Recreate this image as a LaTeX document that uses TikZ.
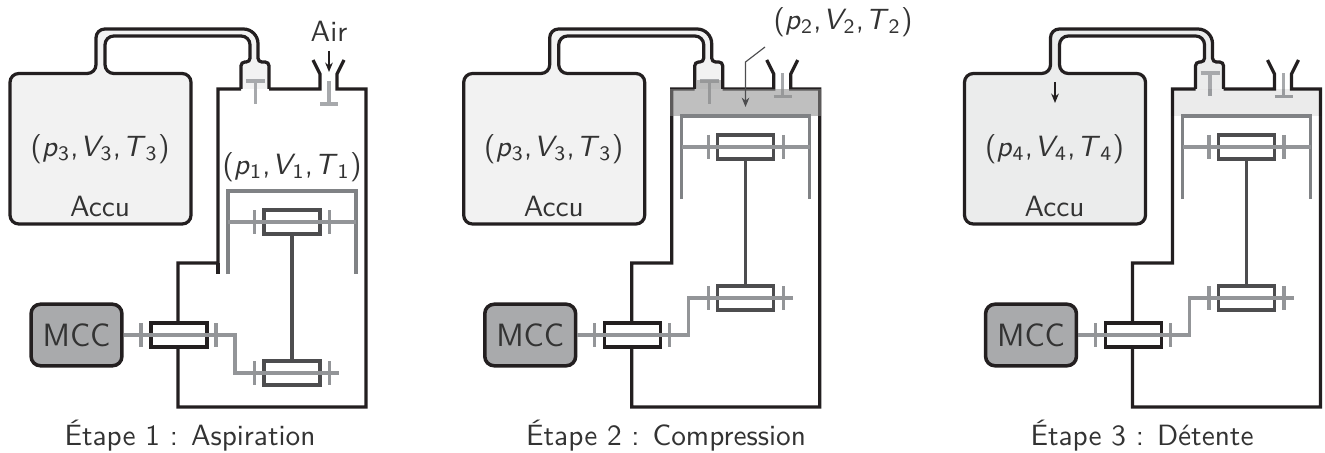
\documentclass[tikz,border=0pt]{standalone}
\usepackage{amsmath,amssymb}
\usetikzlibrary{arrows.meta}

\definecolor{inkblack}{HTML}{231F20}
\definecolor{inktext}{HTML}{333333}
\definecolor{pistongray}{HTML}{808285}
\definecolor{rodgray}{HTML}{4D4D4F}
\definecolor{shaftgray}{HTML}{939598}
\definecolor{valvegray}{HTML}{A7A9AC}
\definecolor{motorgray}{HTML}{A9AAAC}
\definecolor{accuA}{HTML}{F2F2F2}
\definecolor{accuB}{HTML}{EBECEC}

\tikzset{
  wall/.style={draw=inkblack, line width=1.1pt, line join=miter},
  piston/.style={draw=pistongray, line width=1.05pt},
  rod/.style={draw=rodgray, line width=1.05pt},
  shaft/.style={draw=shaftgray, line width=1.05pt},
  valve/.style={draw=valvegray, line width=1.05pt},
  bearing/.style={draw=rodgray, fill=white, line width=1.05pt, inner sep=0pt,
    minimum width=19.1pt, minimum height=8.2pt},
  mccbox/.style={draw=inkblack, fill=motorgray, line width=1.2pt, rounded corners=3.2pt,
    inner sep=0pt, minimum width=31pt, minimum height=21pt, text=inktext,
    font=\fontsize{11}{13}\selectfont\sffamily},
  txt/.style={text=inktext, font=\sffamily, inner sep=0pt},
  flow/.style={-{Stealth[length=3.2pt, width=2.6pt, inset=1pt]}},
}

% State of the gas, slanted letters with upright indices
\newcommand{\gasstate}[1]{(\textsl{p}$_{\mathsf{#1}}$,\kern0.5pt\textsl{V}\kern-1pt$_{\mathsf{#1}}$,\kern0.5pt\textsl{T}$_{\mathsf{#1}}$)}

% Outline of the tank and its pipe, ends open at the valve
\newcommand{\accupath}{(241,89) [rounded corners=1.3pt] -- (241,62) -- (250,62)
  [rounded corners=3pt] -- (250,36) -- (105,36) -- (105,73.5)
  -- (191,73.5) -- (191,224) -- (10,224) -- (10,73.5) -- (96,73.5)
  -- (96,29) [rounded corners=5pt] -- (258,29) [rounded corners=1.3pt] -- (258,62) -- (269,62) -- (269,89)}

\begin{document}
\begin{tikzpicture}[x=0.012cm, y=-0.012cm]
\useasboundingbox (0,0) rectangle (1325,452);

\foreach \n/\dx/\lift/\lv/\rv/\accfill/\gasc/\gasop/\vt in {
  1/0/0/0/0/accuA/white/0/89,
  2/453.7/75/0/7.5/accuA/black!45.5/0.55/80,
  3/954.5/75/8/7.5/accuB/black/0.08/89} {
\begin{scope}[shift={(\dx,0)}]

  % Tank and pipe
  \fill[\accfill] \accupath -- cycle;
  \draw[wall] \accupath;

  % Cylinder walls
  \draw[wall] (241,89) -- (218,89) -- (218,263) -- (178,263) -- (178,407)
    -- (366,407) -- (366,89) -- (337,89) -- (337,74) -- (344,60);
  \draw[wall] (269,89) -- (320,89) -- (320,74) -- (313,60);

  % Valves
  \draw[valve] (246,81-\lv) -- (265,81-\lv) (255.5,81-\lv) -- (255.5,104-\lv);
  \draw[valve] (320,104-\rv) -- (338,104-\rv) (329,104-\rv) -- (329,81-\rv);

  % Compressed gas
  \fill[\gasc, opacity=\gasop] (216.5,89) rectangle (367.5,116);
  \fill[\gasc, opacity=\gasop] (243,\vt) rectangle (267,89);

  % Piston
  \draw[piston] (228,274-\lift) -- (228,191-\lift) -- (356,191-\lift) -- (356,274-\lift);

  % Motor, bearings
  \node[mccbox] (mcc\n) at (76.5,335) {MCC};
  \node[bearing] (top\n) at (292,222-\lift) {};
  \node[bearing] (low\n) at (292,373-\lift) {};
  \node[bearing, draw=inkblack] (main\n) at (179,335) {};
  \coordinate (end\n) at (339,373-\lift);
  \coordinate (left\n) at (228,222-\lift);
  \coordinate (right\n) at (356,222-\lift);

  % Rod and shafts
  \draw[rod] (top\n.south) -- (low\n.north);
  \draw[shaft] (left\n) -- (right\n);
  \draw[shaft] (mcc\n.east) -- (235,335) -- (235,373-\lift) -- (end\n);

  % Ticks
  \foreach \tx in {254.5,329.5} {
    \draw[shaft] (\tx,210-\lift) -- (\tx,234-\lift);
    \draw[shaft] (\tx,361-\lift) -- (\tx,385-\lift);
  }
  \draw[shaft] (141,323) -- (141,347);
  \draw[shaft] (216,323) -- (216,347);

  \node[txt] (accu\n) at (100,206) {Accu};
\end{scope}
}

% Wall stub of the first stage
\draw[wall] (218,263) -- (218,274);

% Air inlet
\node[txt] (air) at (329,31) {Air};
\coordinate (inlet) at (329,72);
\draw[flow, inkblack, line width=0.5pt] (air.south) ++(0,9) -- (inlet);

% States
\node[txt] (stateA) at (100,149) {\gasstate{3}};
\node[txt] (stateB) at (292,167) {\gasstate{1}};
\node[txt] (stateC) at (553.7,149) {\gasstate{3}};
\node[txt] (stateD) at (843,22) {\gasstate{2}};
\node[txt] (stateE) at (1054.5,149) {\gasstate{4}};

% Leader and expansion arrow
\coordinate (leadA) at (765,47);
\coordinate (leadB) at (745.5,62);
\coordinate (leadC) at (745.5,107);
\draw[flow, rodgray, line width=0.4pt] (leadA) -- (leadB) -- (leadC);
\coordinate (expA) at (1055,82);
\coordinate (expB) at (1055,103);
\draw[flow, inkblack, line width=0.5pt] (expA) -- (expB);

% Captions
\node[txt] (capA) at (190,436) {Étape 1 : Aspiration};
\node[txt] (capB) at (666,436) {Étape 2 : Compression};
\node[txt] (capC) at (1142,436) {Étape 3 : Détente};

\end{tikzpicture}
\end{document}
